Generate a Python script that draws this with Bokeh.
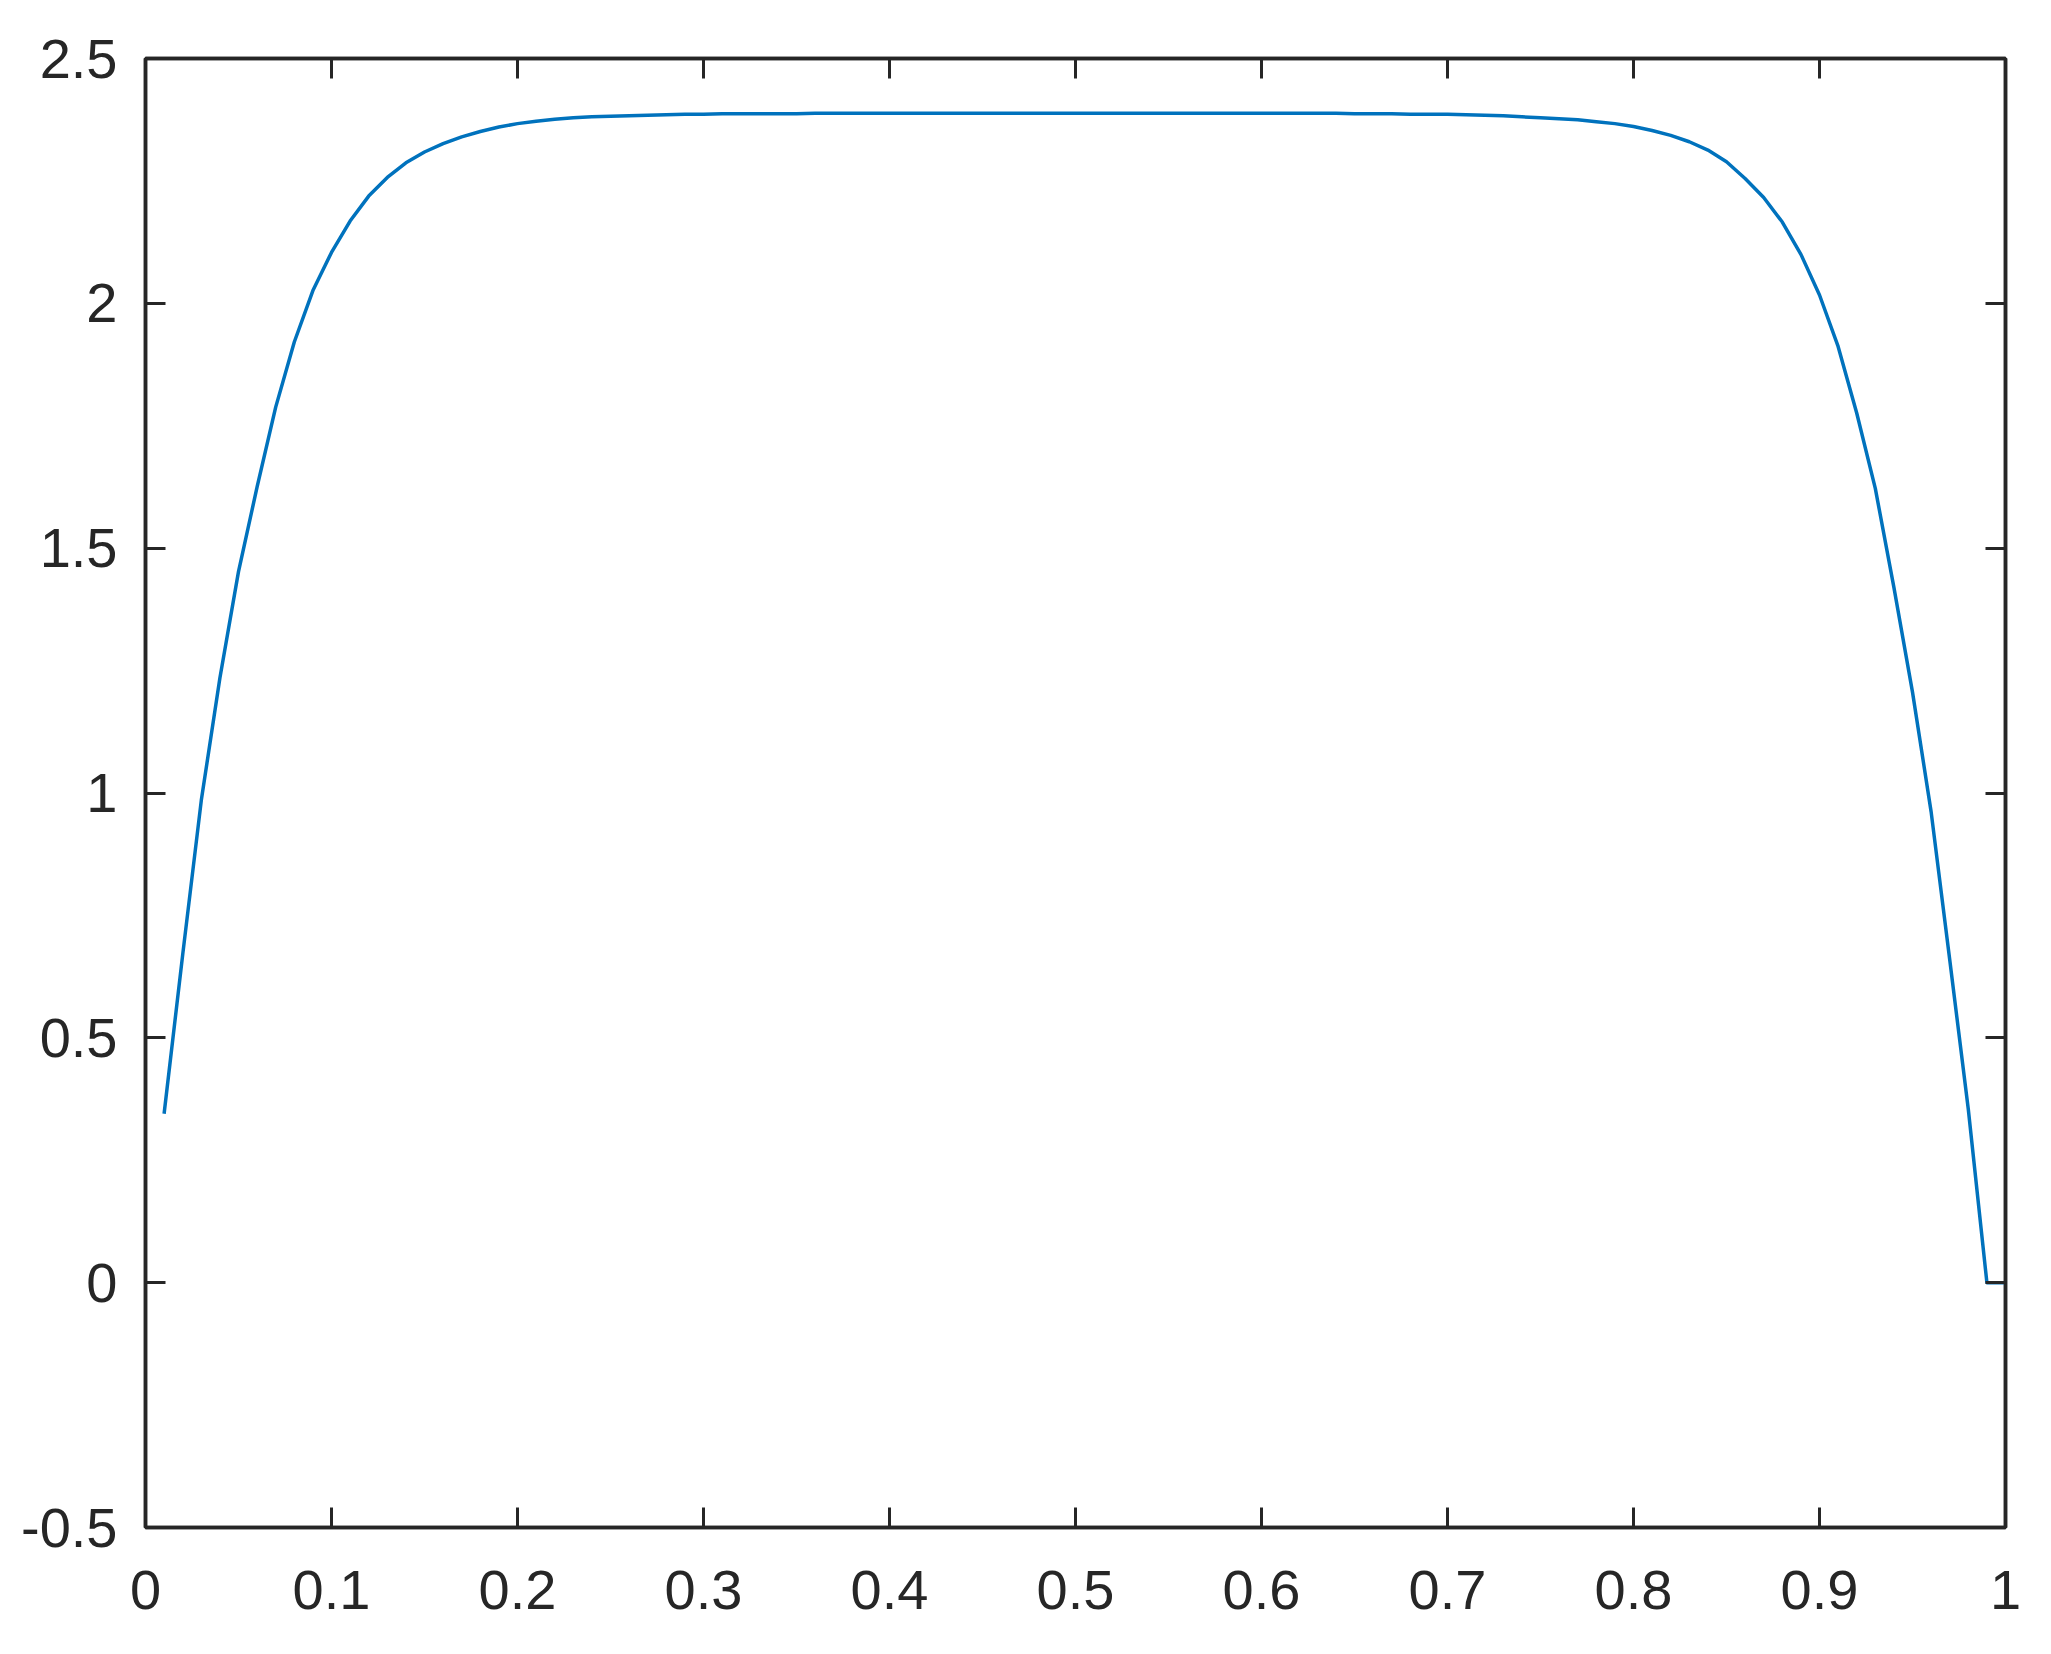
from bokeh.plotting import figure
from bokeh.models import LinearAxis, FixedTicker, Range1d, CustomJSTickFormatter, ColumnDataSource
from bokeh.embed import file_html
from bokeh.resources import INLINE

# ---- data ----
x_values = [round(i / 100, 2) for i in range(1, 101)]
y_rise = [0.345, 0.670, 0.985, 1.235, 1.452, 1.625, 1.788, 1.921, 2.026, 2.104,
          2.168, 2.219, 2.257, 2.287, 2.309, 2.326, 2.340, 2.351, 2.360, 2.367,
          2.372, 2.376, 2.379, 2.381, 2.382, 2.383, 2.384, 2.385, 2.386, 2.386,
          2.387, 2.387, 2.387, 2.387, 2.387]
y_plateau = [2.388] * 29
y_fall = [2.387, 2.387, 2.387, 2.386, 2.386, 2.386, 2.385, 2.384, 2.383, 2.381,
          2.379, 2.377, 2.375, 2.371, 2.367, 2.361, 2.353, 2.343, 2.330, 2.313,
          2.289, 2.255, 2.216, 2.166, 2.100, 2.017, 1.912, 1.776, 1.622, 1.420,
          1.206, 0.962, 0.660, 0.354, 0.000, 0.000]
y_values = y_rise + y_plateau + y_fall

x_ticks = [0, 0.1, 0.2, 0.3, 0.4, 0.5, 0.6, 0.7, 0.8, 0.9, 1.0]
x_tick_labels = ["0", "0.1", "0.2", "0.3", "0.4", "0.5", "0.6", "0.7", "0.8", "0.9", "1"]
y_ticks = [-0.5, 0, 0.5, 1.0, 1.5, 2.0, 2.5]
y_tick_labels = ["-0.5", "0", "0.5", "1", "1.5", "2", "2.5"]

AX = "#262626"
FONT = "Liberation Sans"
FS = "56px"

p = figure(width=2043, height=1646, output_backend="svg", toolbar_location=None,
           x_range=Range1d(0, 1), y_range=Range1d(-0.5, 2.5),
           x_axis_location=None, y_axis_location=None,
           min_border_left=145, min_border_right=38, min_border_top=58, min_border_bottom=119)
p.background_fill_color = "white"
p.border_fill_color = "white"
p.outline_line_color = AX
p.outline_line_width = 3.5
p.grid.visible = False

src = ColumnDataSource(dict(x=x_values, y=y_values))
p.line("x", "y", source=src, line_color="#0072BD", line_width=3.5, line_join="round")

def style(ax, ticks, labels, show):
    ax.ticker = FixedTicker(ticks=ticks)
    ax.minor_tick_line_color = None
    ax.major_tick_in = 20
    ax.major_tick_out = 0
    ax.major_tick_line_color = AX
    ax.major_tick_line_width = 3
    ax.axis_line_color = AX
    ax.axis_line_width = 3.5
    if show:
        ax.major_label_overrides = {t: l for t, l in zip(ticks, labels)}
        ax.major_label_text_font = FONT
        ax.major_label_text_font_size = FS
        ax.major_label_text_color = AX
    else:
        ax.formatter = CustomJSTickFormatter(code="return ''")
        ax.major_label_text_font_size = "1px"
        ax.major_label_standoff = 0

xb = LinearAxis()
style(xb, x_ticks, x_tick_labels, True)
xb.major_label_standoff = 43
p.add_layout(xb, "below")

yl = LinearAxis()
style(yl, y_ticks, y_tick_labels, True)
yl.major_label_standoff = 28
p.add_layout(yl, "left")

xt = LinearAxis()
style(xt, x_ticks, x_tick_labels, False)
p.add_layout(xt, "above")

yr = LinearAxis()
style(yr, y_ticks, y_tick_labels, False)
p.add_layout(yr, "right")

open("out.html", "w").write(file_html(p, INLINE))
